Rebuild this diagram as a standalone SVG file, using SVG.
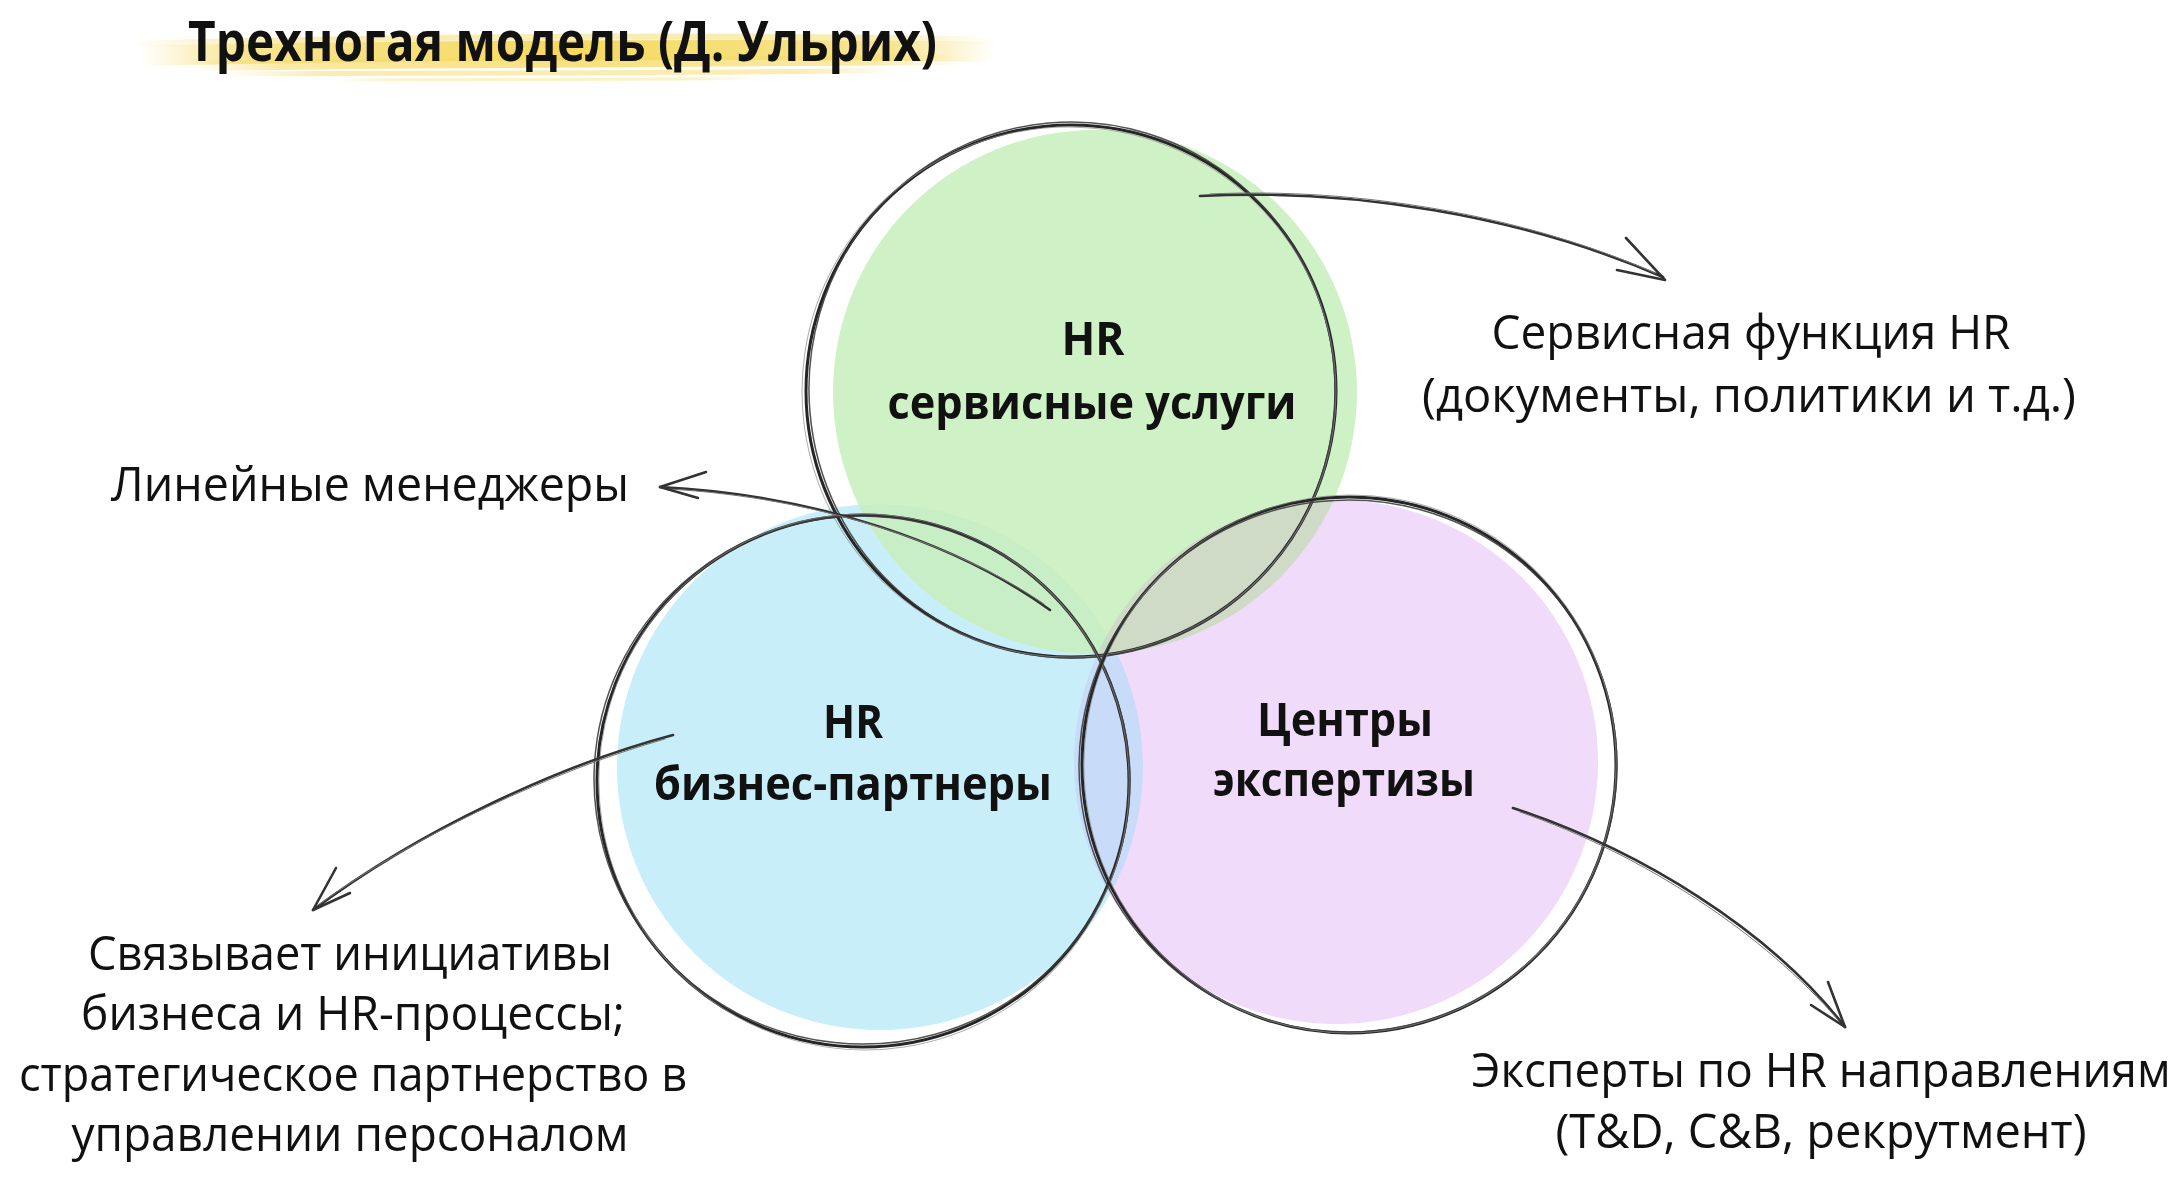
<svg xmlns="http://www.w3.org/2000/svg" width="2182" height="1178" viewBox="0 0 2182 1178">
  <defs>
    <linearGradient id="brush" x1="0" y1="0" x2="1" y2="0">
      <stop offset="0" stop-color="#f6dc6a" stop-opacity="0"/>
      <stop offset="0.12" stop-color="#f6dc6a" stop-opacity="0.75"/>
      <stop offset="0.5" stop-color="#f5d95e" stop-opacity="1"/>
      <stop offset="0.88" stop-color="#f6dc6a" stop-opacity="0.75"/>
      <stop offset="1" stop-color="#f6dc6a" stop-opacity="0"/>
    </linearGradient>
    <linearGradient id="brushLight" x1="0" y1="0" x2="1" y2="0">
      <stop offset="0" stop-color="#f8e590" stop-opacity="0"/>
      <stop offset="0.15" stop-color="#f8e590" stop-opacity="0.7"/>
      <stop offset="0.85" stop-color="#f8e590" stop-opacity="0.7"/>
      <stop offset="1" stop-color="#f8e590" stop-opacity="0"/>
    </linearGradient>
  </defs>
  <style>
    .fill { mix-blend-mode: darken; stroke: none; }
    .ol1 { fill: none; stroke: #262626; stroke-width: 3; }
    .ol2 { fill: none; stroke: #3e3e3e; stroke-width: 1.5; opacity: 0.9; }
    .ol3 { fill: none; stroke: #8a8a8a; stroke-width: 1; opacity: 0.7; }
    .conn { fill: none; stroke: #333333; stroke-width: 2.6; stroke-linecap: round; stroke-linejoin: round; }
    .connThin { fill: none; stroke: #777777; stroke-width: 1; stroke-linecap: round; }
    .bold { font-family: "Open Sans", "Noto Sans", "DejaVu Sans", sans-serif; font-weight: 700; font-size: 46px; fill: #111; text-anchor: middle; }
    .reg { font-family: "Open Sans", "Noto Sans", "DejaVu Sans", sans-serif; font-weight: 400; font-size: 48px; fill: #111; }
    .title { font-family: "Liberation Sans Narrow", "Open Sans", "Liberation Sans", sans-serif; font-weight: 700; font-size: 56px; fill: #111; }
  </style>
  <rect width="2182" height="1178" fill="#ffffff"/>

  <!-- title with yellow brush -->
  <g id="title">
    <path d="M128,44 C400,36 750,34 1000,40" stroke="url(#brushLight)" stroke-width="6" fill="none" stroke-linecap="round"/>
    <path d="M140,56 C420,50 760,48 995,52" stroke="url(#brush)" stroke-width="20" fill="none" stroke-linecap="round"/>
    <path d="M190,66 C450,62 720,63 960,60" stroke="url(#brush)" stroke-width="10" fill="none" stroke-linecap="round" opacity="0.8"/>
    <path d="M220,74 C470,72 700,74 900,70" stroke="url(#brushLight)" stroke-width="5" fill="none" stroke-linecap="round"/>
    <path d="M330,80 C500,79 640,80 760,78" stroke="url(#brushLight)" stroke-width="3" fill="none" stroke-linecap="round" opacity="0.7"/>
    <text class="title" x="188" y="61" textLength="749" lengthAdjust="spacingAndGlyphs">Трехногая модель (Д. Ульрих)</text>
  </g>

  <!-- fills -->
  <g id="fills">
    <circle class="fill" cx="880" cy="767" r="263" fill="#c8eef9"/>
    <circle class="fill" cx="1336" cy="762" r="262" fill="#f0dbfa"/>
    <circle class="fill" cx="1095" cy="392" r="262" fill="#cff1c6"/>
  </g>

  <!-- nodes -->
  <g id="node-service">
    <ellipse class="ol1" cx="1071" cy="391" rx="265" ry="266"/>
    <ellipse class="ol2" cx="1072" cy="390" rx="263" ry="268" transform="rotate(-5 1072 390)"/>
    <ellipse class="ol3" cx="1069" cy="392" rx="267" ry="265" transform="rotate(8 1069 392)"/>
    <text class="bold" x="1093" y="355" textLength="63" lengthAdjust="spacingAndGlyphs">HR</text>
    <text class="bold" x="1092" y="419" textLength="409" lengthAdjust="spacingAndGlyphs">сервисные услуги</text>
  </g>

  <g id="node-bp">
    <ellipse class="ol1" cx="863" cy="781" rx="266" ry="266"/>
    <ellipse class="ol2" cx="862" cy="780" rx="268" ry="264" transform="rotate(6 862 780)"/>
    <ellipse class="ol3" cx="864" cy="782" rx="265" ry="268" transform="rotate(-9 864 782)"/>
    <text class="bold" x="853" y="738" textLength="60" lengthAdjust="spacingAndGlyphs">HR</text>
    <text class="bold" x="853" y="800" textLength="398" lengthAdjust="spacingAndGlyphs">бизнес-партнеры</text>
  </g>

  <g id="node-coe">
    <ellipse class="ol1" cx="1349" cy="765" rx="267" ry="268"/>
    <ellipse class="ol2" cx="1348" cy="766" rx="269" ry="266" transform="rotate(-6 1348 766)"/>
    <ellipse class="ol3" cx="1350" cy="764" rx="266" ry="269" transform="rotate(9 1350 764)"/>
    <text class="bold" x="1345" y="736" textLength="176" lengthAdjust="spacingAndGlyphs">Центры</text>
    <text class="bold" x="1344" y="796" textLength="262" lengthAdjust="spacingAndGlyphs">экспертизы</text>
  </g>

  <!-- connectors -->
  <g id="connectors">
    <path class="conn" d="M1200,196 C1350,188 1520,215 1663,277"/>
    <path class="connThin" d="M1210,194 C1360,187 1525,216 1655,273"/>
    <path class="conn" d="M1626,238 L1665,280 L1617,270"/>

    <path class="conn" d="M1050,610 C960,545 820,495 660,487"/>
    <path class="connThin" d="M1044,604 C955,543 815,497 668,489"/>
    <path class="conn" d="M706,472 L660,487 L698,498"/>

    <path class="conn" d="M673,735 C560,765 420,830 313,910"/>
    <path class="connThin" d="M665,739 C555,770 415,835 318,905"/>
    <path class="conn" d="M336,868 L313,910 L350,893"/>

    <path class="conn" d="M1513,808 C1640,850 1770,930 1845,1027"/>
    <path class="connThin" d="M1520,812 C1645,855 1765,935 1838,1020"/>
    <path class="conn" d="M1828,982 L1845,1027 L1811,1005"/>
  </g>

  <!-- labels -->
  <g id="label-service">
    <text class="reg" x="1751" y="349" text-anchor="middle" textLength="519" lengthAdjust="spacingAndGlyphs">Сервисная функция HR</text>
    <text class="reg" x="1749" y="412" text-anchor="middle" textLength="654" lengthAdjust="spacingAndGlyphs">(документы, политики и т.д.)</text>
  </g>
  <g id="label-managers">
    <text class="reg" x="111" y="501" textLength="518" lengthAdjust="spacingAndGlyphs">Линейные менеджеры</text>
  </g>
  <g id="label-bp">
    <text class="reg" x="350" y="970" text-anchor="middle" textLength="524" lengthAdjust="spacingAndGlyphs">Связывает инициативы</text>
    <text class="reg" x="353" y="1030" text-anchor="middle" textLength="544" lengthAdjust="spacingAndGlyphs">бизнеса и HR-процессы;</text>
    <text class="reg" x="353" y="1091" text-anchor="middle" textLength="668" lengthAdjust="spacingAndGlyphs">стратегическое партнерство в</text>
    <text class="reg" x="350" y="1151" text-anchor="middle" textLength="557" lengthAdjust="spacingAndGlyphs">управлении персоналом</text>
  </g>
  <g id="label-coe">
    <text class="reg" x="1821" y="1087" text-anchor="middle" textLength="699" lengthAdjust="spacingAndGlyphs">Эксперты по HR направлениям</text>
    <text class="reg" x="1821" y="1148" text-anchor="middle" textLength="531" lengthAdjust="spacingAndGlyphs">(T&amp;D, C&amp;B, рекрутмент)</text>
  </g>
</svg>
